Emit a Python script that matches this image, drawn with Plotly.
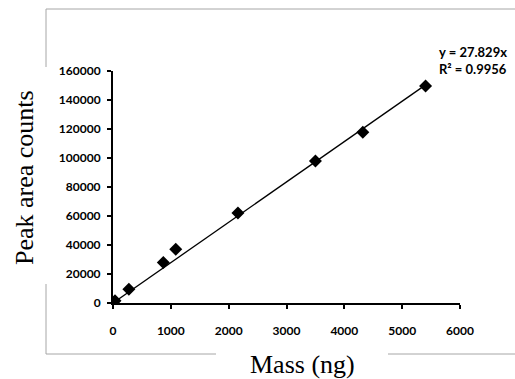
import plotly.graph_objects as go

# Data
mass_ng = [35, 275, 870, 1085, 2160, 3500, 4320, 5405]
peak_area = [1500, 9400, 28000, 37000, 62000, 98000, 117700, 149700]
slope = 27.829
r_squared = 0.9956
trend_x = [0, 5405]
trend_y = [slope * v for v in trend_x]

x_ticks = [0, 1000, 2000, 3000, 4000, 5000, 6000]
x_tick_labels = ["0", "1000", "2000", "3000", "4000", "5000", "6000"]
y_ticks = [0, 20000, 40000, 60000, 80000, 100000, 120000, 140000, 160000]
y_tick_labels = ["0", "20000", "40000", "60000", "80000", "100000", "120000", "140000", "160000"]

W, H = 515, 379
L, R, T, B = 113, 55, 71, 76
pw, ph = W - L - R, H - T - B

def px(x):
    return (x - L) / pw

def py(y):
    return (H - B - y) / ph

tick_font = dict(family="Lato, 'Open Sans', sans-serif", size=12, color="black", weight="bold")

fig = go.Figure()
fig.add_trace(go.Scatter(x=trend_x, y=trend_y, mode="lines",
                         line=dict(color="black", width=1.3), hoverinfo="skip"))
fig.add_trace(go.Scatter(x=mass_ng, y=peak_area, mode="markers",
                         marker=dict(symbol="diamond", size=10, color="black")))

fig.update_layout(
    width=W, height=H,
    margin=dict(l=L, r=R, t=T, b=B),
    paper_bgcolor="white", plot_bgcolor="white",
    showlegend=False,
    xaxis=dict(range=[0, 6000], tickvals=x_ticks, ticktext=x_tick_labels,
               showgrid=False, zeroline=False,
               showline=True, linecolor="black", linewidth=2,
               ticks="outside", ticklen=4, tickwidth=1.5, tickcolor="black",
               tickfont=tick_font, ticklabelstandoff=12),
    yaxis=dict(range=[0, 160000], tickvals=y_ticks, ticktext=y_tick_labels,
               showgrid=False, zeroline=False,
               showline=True, linecolor="black", linewidth=2,
               ticks="outside", ticklen=4, tickwidth=1.5, tickcolor="black",
               tickfont=tick_font, ticklabelstandoff=4),
)

gray = dict(color="#a6a6a6", width=1)
segments = [
    ((46, 9), (515, 9)),
    ((46, 9), (46, 67)),
    ((46, 284), (46, 354)),
    ((46, 354), (216, 354)),
    ((388, 354), (515, 354)),
]
for (x0, y0), (x1, y1) in segments:
    fig.add_shape(type="line", xref="paper", yref="paper",
                  x0=px(x0), y0=py(y0), x1=px(x1), y1=py(y1), line=gray)

title_font = dict(family="'Liberation Serif', 'Times New Roman', serif", size=26, color="black")
fig.add_annotation(text="Peak area counts", xref="paper", yref="paper",
                   x=px(24), y=py(178), textangle=-90, showarrow=False,
                   font=title_font, xanchor="center", yanchor="middle")
fig.add_annotation(text="Mass (ng)", xref="paper", yref="paper",
                   x=px(302), y=py(364), showarrow=False,
                   font=title_font, xanchor="center", yanchor="middle")

fig.add_annotation(text=f"y = {slope}x<br>R² = {r_squared}", xref="paper", yref="paper",
                   x=px(437), y=py(60), showarrow=False, align="left",
                   xanchor="left", yanchor="middle",
                   font=dict(family="Lato, 'Open Sans', sans-serif", size=13, color="black", weight="bold"))

fig.write_html("out.html")
